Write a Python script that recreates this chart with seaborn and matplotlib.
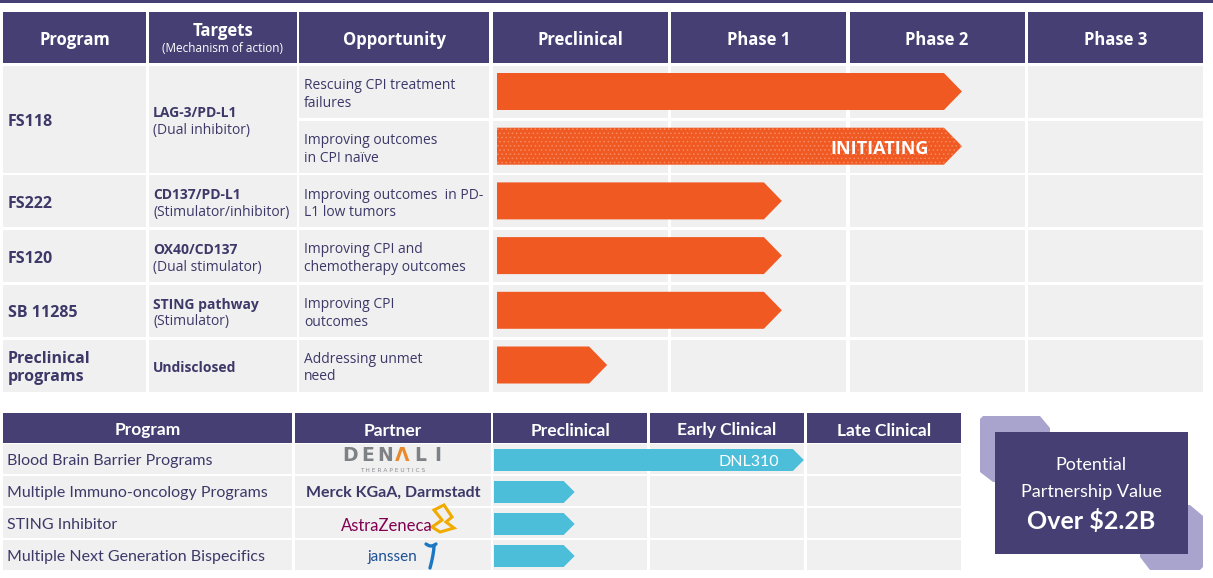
import numpy as np
import matplotlib.pyplot as plt
from matplotlib.patches import Rectangle, Polygon
import seaborn as sns

# ------------------------------
# Data
# ------------------------------
phases = ['Preclinical', 'Phase 1', 'Phase 2', 'Phase 3']
programs = ['FS118', 'FS222', 'FS120', 'SB 11285', 'Preclinical\nprograms']
targets = ['LAG-3/PD-L1', 'CD137/PD-L1', 'OX40/CD137', 'STING pathway', 'Undisclosed']
mechanisms = ['(Dual inhibitor)', '(Stimulator/inhibitor)', '(Dual stimulator)', '(Stimulator)', '']
opportunities = ['Rescuing CPI treatment\nfailures',
                 'Improving outcomes\nin CPI naïve',
                 'Improving outcomes  in PD-\nL1 low tumors',
                 'Improving CPI and\nchemotherapy outcomes',
                 'Improving CPI\noutcomes',
                 'Addressing unmet\nneed']
opportunity_program = [0, 0, 1, 2, 3, 4]
progress = [2.63, 2.63, 1.62, 1.62, 1.62, 0.64]   # in phase units
bar_notes = ['', 'INITIATING', '', '', '', '']

partner_phases = ['Preclinical', 'Early Clinical', 'Late Clinical']
partner_programs = ['Blood Brain Barrier Programs', 'Multiple Immuno-oncology Programs',
                    'STING Inhibitor', 'Multiple Next Generation Bispecifics']
partners = ['DENALI', 'Merck KGaA, Darmstadt', 'AstraZeneca', 'janssen']
partner_progress = [1.98, 0.52, 0.52, 0.52]
partner_notes = ['DNL310', '', '', '']
deal_lines = ['Potential', 'Partnership Value', 'Over $2.2B']

# ------------------------------
# Style
# ------------------------------
PURPLE = '#463F73'
TEXT = '#3D3868'
GREY = '#F0F0F0'
ORANGE = '#F05A22'
DOTS = '#F58A60'
CYAN = '#4DBEDA'
LILAC = '#A9A4CD'
TY = 2.5   # matplotlib centres on the full glyph box, nudge text down a bit

sns.set_theme(style='white')
plt.rcParams['font.family'] = ['Open Sans', 'DejaVu Sans']
plt.rcParams['hatch.linewidth'] = 0.6

W, H = 1213, 578
fig = plt.figure(figsize=(W / 100, H / 100), dpi=100)
ax = fig.add_axes([0, 0, 1, 1])
ax.set_xlim(0, W)
ax.set_ylim(H, 0)
ax.axis('off')


def px_axes(x0, x1, y0, y1):
    a = fig.add_axes([x0 / W, 1 - y1 / H, (x1 - x0) / W, (y1 - y0) / H])
    a.patch.set_alpha(0)
    a.axis('off')
    return a


def cell(x0, w, y0, h, color):
    ax.add_patch(Rectangle((x0, y0), w, h, facecolor=color, edgecolor='none'))


def label(x, y, s, **kw):
    ax.text(x, y + TY, s, va='center', **kw)


def arrow(a, start, end, yc, h, tip, **kw):
    xs = [start, end - tip, end, end - tip, start]
    ys = [yc - h / 2, yc - h / 2, yc, yc + h / 2, yc + h / 2]
    a.fill(xs, ys, **kw)


# thin rule at the very top
ax.add_patch(Rectangle((0, 0), W, 2.5, facecolor=PURPLE, edgecolor='none'))

# ------------------------------
# Top table
# ------------------------------
PITCH = 178.3
col_x = [3, 149, 299] + [493 + i * PITCH for i in range(4)]
col_w = [143, 148, 190] + [175] * 4
head_y, head_h = 12, 51
row0, row_pitch, row_h = 66, 54.7, 52

for x, w in zip(col_x, col_w):
    cell(x, w, head_y, head_h, PURPLE)
mid = head_y + head_h / 2
label(col_x[0] + col_w[0] / 2, mid, 'Program', color='white', fontsize=12,
      fontweight='bold', ha='center')
label(col_x[1] + col_w[1] / 2, 28.5, 'Targets', color='white', fontsize=12,
      fontweight='bold', ha='center')
label(col_x[1] + col_w[1] / 2, 46, '(Mechanism of action)', color='white', fontsize=8.5,
      ha='center')
label(col_x[2] + col_w[2] / 2, mid, 'Opportunity', color='white', fontsize=12,
      fontweight='bold', ha='center')
for i, ph in enumerate(phases):
    label(col_x[3 + i] + col_w[3 + i] / 2, mid, ph, color='white', fontsize=12,
          fontweight='bold', ha='center')

# opportunity rows + phase cells
for r, opp in enumerate(opportunities):
    y0 = row0 + r * row_pitch
    for c in range(2, 7):
        cell(col_x[c], col_w[c], y0, row_h, GREY)
    label(col_x[2] + 5, y0 + row_h / 2, opp, color=TEXT, fontsize=10,
          ha='left', linespacing=1.25)

# program / target cells (merged over their opportunity rows)
for p, prog in enumerate(programs):
    rows = [r for r, q in enumerate(opportunity_program) if q == p]
    y0 = row0 + min(rows) * row_pitch
    y1 = row0 + max(rows) * row_pitch + row_h
    yc = (y0 + y1) / 2
    cell(col_x[0], col_w[0], y0, y1 - y0, GREY)
    cell(col_x[1], col_w[1], y0, y1 - y0, GREY)
    label(col_x[0] + 5, yc, prog, color=TEXT, fontsize=11.5, fontweight='bold',
          ha='left', linespacing=1.1)
    if mechanisms[p]:
        label(col_x[1] + 4, yc - 8.5, targets[p], color=TEXT, fontsize=10,
              fontweight='bold', ha='left')
        label(col_x[1] + 4, yc + 8.5, mechanisms[p], color=TEXT, fontsize=10,
              ha='left')
    else:
        label(col_x[1] + 4, yc, targets[p], color=TEXT, fontsize=10,
              fontweight='bold', ha='left')

# progress arrows, drawn in phase units
n_rows = len(opportunities)
ax_top = px_axes(493, 493 + 4 * PITCH, row0, row0 + n_rows * row_pitch)
ax_top.set_xlim(0, len(phases))
ax_top.set_ylim(n_rows, 0)
bar_start = 4 / PITCH
tip = 18 / PITCH
bar_h = 37 / row_pitch
for r, (val, note) in enumerate(zip(progress, bar_notes)):
    yc = r + 25.5 / row_pitch
    if note:
        arrow(ax_top, bar_start, val, yc, bar_h, tip, facecolor=ORANGE,
              edgecolor=DOTS, hatch='....', linewidth=0)
        ax_top.text(val - 33 / PITCH, yc + 3 / row_pitch, note, color='white',
                    fontsize=13, fontweight='bold', ha='right', va='center')
    else:
        arrow(ax_top, bar_start, val, yc, bar_h, tip, facecolor=ORANGE,
              edgecolor='none', linewidth=0)

# ------------------------------
# Bottom (partnered) table
# ------------------------------
LATO = ['Lato', 'DejaVu Sans']
BPITCH = 157
bcol_x = [3, 295] + [493 + i * BPITCH for i in range(3)]
bcol_w = [289, 196] + [154] * 3
bhead_y, bhead_h = 413, 30
brow0, brow_pitch, brow_h = 444, 32, 29.5

for x, w in zip(bcol_x, bcol_w):
    cell(x, w, bhead_y, bhead_h, PURPLE)
bmid = bhead_y + bhead_h / 2
for x, w, lab in zip(bcol_x, bcol_w, ['Program', 'Partner'] + partner_phases):
    label(x + w / 2, bmid, lab, color='white', fontsize=12.5, fontweight='bold',
          family=LATO, ha='center')

for r, prog in enumerate(partner_programs):
    y0 = brow0 + r * brow_pitch
    for x, w in zip(bcol_x, bcol_w):
        cell(x, w, y0, brow_h, GREY)
    label(7, y0 + brow_h / 2, prog, color=TEXT, fontsize=11.5, family=LATO, ha='left')

# partner "logos"
pcx = bcol_x[1] + bcol_w[1] / 2
yc = brow0 + brow_h / 2
for k, ch in enumerate(partners[0]):
    label(pcx - 43 + k * 17.5, yc - 6, 'Λ' if ch == 'A' else ch,
          color='#E8892C' if ch == 'A' else '#7E8185', fontsize=13.5,
          fontweight='bold', family=['DejaVu Sans'], ha='center')
label(pcx, yc + 9, 'T H E R A P E U T I C S', color='#8A8D91', fontsize=4.2,
      family=['DejaVu Sans'], ha='center')

yc = brow0 + brow_pitch + brow_h / 2
label(pcx, yc, partners[1], color=TEXT, fontsize=11.5, fontweight='bold',
      family=LATO, ha='center')

yc = brow0 + 2 * brow_pitch + brow_h / 2
label(pcx - 6, yc + 1, partners[2], color='#830051', fontsize=12, family=LATO,
      ha='center')
ax.add_patch(Polygon([[434, 510], [444, 505], [452, 517], [446, 522], [454, 528],
                      [440, 532], [432, 527], [442, 520]], closed=True,
                     facecolor='none', edgecolor='#F0AB00', linewidth=2.2))

yc = brow0 + 3 * brow_pitch + brow_h / 2
label(pcx - 1, yc, partners[3], color='#1B4F93', fontsize=11, family=LATO,
      ha='center')
t = np.linspace(0, 1, 30)
ax.plot(426 + 10 * t, 544 + 2 * np.sin(np.pi * t), color='#1B77C2', linewidth=2.4,
        solid_capstyle='round')
ax.plot(434 - 4 * t ** 1.5, 546 + 22 * t, color='#1B77C2', linewidth=2.4,
        solid_capstyle='round')

# partner progress arrows
n_brows = len(partner_programs)
ax_bot = px_axes(493, 493 + 3 * BPITCH, brow0, brow0 + n_brows * brow_pitch)
ax_bot.set_xlim(0, len(partner_phases))
ax_bot.set_ylim(n_brows, 0)
btip = 11 / BPITCH
bbar_h = 22 / brow_pitch
for r, (val, note) in enumerate(zip(partner_progress, partner_notes)):
    ycb = r + 16 / brow_pitch
    arrow(ax_bot, 1 / BPITCH, val, ycb, bbar_h, btip, facecolor=CYAN,
          edgecolor='none', linewidth=0)
    if note:
        ax_bot.text(val - 25 / BPITCH, ycb + 2 / brow_pitch, note, color='white',
                    fontsize=11.5, family=LATO, ha='right', va='center')

# ------------------------------
# Partnership value box
# ------------------------------
ax.add_patch(Polygon([[983, 416], [1040, 416], [1050, 428], [1050, 482], [993, 482],
                      [980, 472], [980, 419]], closed=True, facecolor=LILAC, edgecolor='none'))
ax.add_patch(Polygon([[1140, 505], [1190, 505], [1203, 516], [1203, 567], [1200, 570],
                      [1150, 570], [1140, 557]], closed=True, facecolor=LILAC, edgecolor='none'))
ax.add_patch(Rectangle((995, 432), 193, 122, facecolor=PURPLE, edgecolor='none'))
label(1091, 463, deal_lines[0], color='white', fontsize=13, family=LATO, ha='center')
label(1091, 489, deal_lines[1], color='white', fontsize=13, family=LATO, ha='center')
label(1091, 518.5, deal_lines[2], color='white', fontsize=18, fontweight='bold',
      family=LATO, ha='center')

plt.savefig('out.png', dpi=100)
